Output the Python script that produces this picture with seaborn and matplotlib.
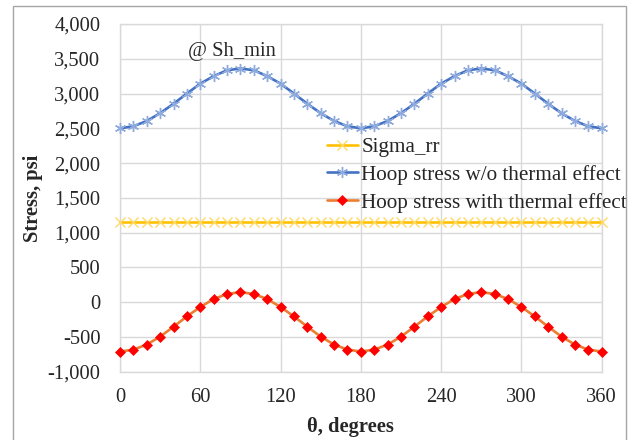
import matplotlib
matplotlib.use("Agg")
import matplotlib.pyplot as plt
from matplotlib.patches import Rectangle
from matplotlib.ticker import FuncFormatter
import pandas as pd
import seaborn as sns

# data (theta every 10 degrees)
theta = [0, 10, 20, 30, 40, 50, 60, 70, 80, 90, 100, 110, 120, 130, 140, 150, 160, 170, 180,
         190, 200, 210, 220, 230, 240, 250, 260, 270, 280, 290, 300, 310, 320, 330, 340, 350, 360]
sigma_rr = [1150, 1150, 1150, 1150, 1150, 1150, 1150, 1150, 1150, 1150, 1150, 1150, 1150,
            1150, 1150, 1150, 1150, 1150, 1150, 1150, 1150, 1150, 1150, 1150, 1150, 1150,
            1150, 1150, 1150, 1150, 1150, 1150, 1150, 1150, 1150, 1150, 1150]
hoop_no_thermal = [2500, 2530, 2605, 2717, 2853, 3000, 3142, 3250, 3335, 3360,
                   3335, 3250, 3142, 3000, 2853, 2717, 2605, 2530, 2500,
                   2530, 2605, 2717, 2853, 3000, 3142, 3250, 3335, 3360,
                   3335, 3250, 3142, 3000, 2853, 2717, 2605, 2530, 2500]
hoop_thermal = [-710, -683, -610, -496, -353, -205, -70, 45, 117, 145,
                117, 45, -70, -205, -353, -496, -610, -683, -710,
                -683, -610, -496, -353, -205, -70, 45, 117, 145,
                117, 45, -70, -205, -353, -496, -610, -683, -710]
labels = ["Sigma_rr", "Hoop stress w/o thermal effect", "Hoop stress with thermal effect"]

df = pd.DataFrame({"theta": theta, labels[0]: sigma_rr,
                   labels[1]: hoop_no_thermal, labels[2]: hoop_thermal})

sns.set_style("white")
plt.rcParams["font.family"] = ["Liberation Serif", "DejaVu Serif"]
FS = 14.8

fig = plt.figure(figsize=(6.39, 4.4), dpi=100)
ax = fig.add_axes([120 / 639, 1 - 371.7 / 440, 481.7 / 639, 347.7 / 440])

styles = {
    labels[0]: dict(color="#FFC000", marker="x", mfc="#FFD966", mec="#FFD966", ms=7, mew=1.0),
    labels[1]: dict(color="#4472C4", marker=(6, 2, 0), mfc="#8FAADC", mec="#8FAADC", ms=8, mew=1.0),
    labels[2]: dict(color="#ED7D31", marker="D", mfc="#FF0000", mec="#FF0000", ms=5, mew=0.5),
}
for name in labels:
    st = styles[name]
    sns.lineplot(data=df, x="theta", y=name, ax=ax, label=name, color=st["color"],
                 linewidth=1.9, marker=st["marker"], markersize=st["ms"],
                 markerfacecolor=st["mfc"], markeredgecolor=st["mec"],
                 markeredgewidth=st["mew"], clip_on=False, zorder=3)

ax.text(84, 3600, "@ Sh_min", ha="center", va="center", fontsize=FS)

ax.set_xlim(0, 360)
ax.set_ylim(-1000, 4000)
ax.set_xticks(range(0, 361, 60))
ax.set_yticks(range(-1000, 4001, 500))
ax.yaxis.set_major_formatter(FuncFormatter(lambda v, p: f"{int(v):,}"))
ax.tick_params(length=0, labelsize=FS)
ax.tick_params(axis="y", pad=14)
ax.tick_params(axis="x", pad=12)
ax.grid(True, color="#D9D9D9", linewidth=1.0)
for s in ax.spines.values():
    s.set_color("#D9D9D9")
    s.set_linewidth(1.0)

ax.set_xlabel("θ, degrees", fontsize=FS, fontweight="bold", va="center")
ax.set_ylabel("Stress, psi", fontsize=FS, fontweight="bold", va="center")
ax.xaxis.set_label_coords(0.478, -0.16)
ax.yaxis.set_label_coords(-0.18, 0.5)

ax.legend(loc="center left", bbox_to_anchor=(316 / 639, 1 - 175 / 440),
          bbox_transform=fig.transFigure, frameon=False, fontsize=15.2,
          borderpad=0, handlelength=1.5, handletextpad=0.15, labelspacing=0.37)

fig.patches.append(Rectangle((13 / 639, -0.05), 613 / 639, 1.05 - 6 / 440,
                             transform=fig.transFigure, fill=False,
                             edgecolor="#A6A6A6", linewidth=1.0))

fig.savefig("out.png", dpi=100)
